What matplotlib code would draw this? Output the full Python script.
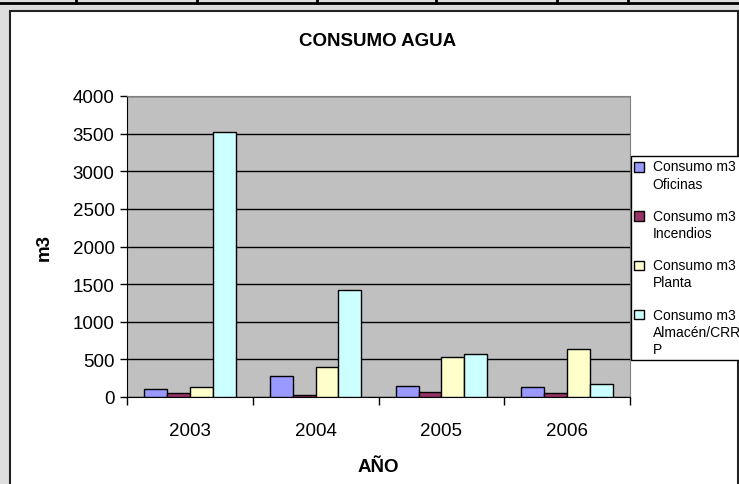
import numpy as np
import matplotlib
matplotlib.use('Agg')
import matplotlib.pyplot as plt
from matplotlib.patches import Rectangle
from matplotlib.lines import Line2D
from matplotlib.legend_handler import HandlerPatch, update_from_first_child

plt.rcParams['font.family'] = ['Liberation Sans', 'DejaVu Sans']

# --------------------------------------------------------------------------- #
# Data.
years = ['2003', '2004', '2005', '2006']
oficinas = [100, 275, 150, 135]
incendios = [50, 30, 65, 50]
planta = [135, 400, 535, 635]
almacen = [3525, 1420, 570, 170]

series = [oficinas, incendios, planta, almacen]
labels = ['Consumo m3\nOficinas', 'Consumo m3\nIncendios',
          'Consumo m3\nPlanta', 'Consumo m3\nAlmacén/CRR\nP']
colours = ['#9999ff', '#993366', '#ffffcc', '#ccffff']

yticks = np.arange(0, 4001, 500)

# --------------------------------------------------------------------------- #
W, H = 739., 485.
fig = plt.figure(figsize=(W / 100, H / 100), dpi=100)
fig.patch.set_facecolor('#dedede')

# Spreadsheet cell strip at the very top.
fig.add_artist(Line2D([0, 1], [1 - 3.5 / H, 1 - 3.5 / H], transform=fig.transFigure,
                      color='black', lw=2))
for xc in [76, 197, 317, 436, 557, 628]:
    fig.add_artist(Line2D([xc / W, xc / W], [1, 1 - 3.5 / H], transform=fig.transFigure,
                          color='black', lw=2))

# Chart frame.
fig.add_artist(Rectangle((10 / W, -0.1), (738 - 10) / W, (H - 12) / H + 0.1,
                         transform=fig.transFigure, facecolor='white',
                         edgecolor='#222222', lw=1.5, zorder=0))

ax = fig.add_axes([127 / W, 1 - 398 / H, (630 - 127) / W, (398 - 97) / H])
ax.set_facecolor('#c0c0c0')

x = np.arange(len(years))
bw = 1 / 5.5
bars = []
for i, (vals, lab, col) in enumerate(zip(series, labels, colours)):
    b = ax.bar(x + (i - 1.5) * bw, vals, bw, color=col, edgecolor='black',
               linewidth=1, label=lab, zorder=3)
    bars.append(b)

ax.set_xlim(-0.5, 3.5)
ax.set_ylim(0, 4000)
ax.set_yticks(yticks)
ax.set_yticklabels([str(v) for v in yticks], fontsize=13.5)
ax.yaxis.grid(True, color='black', lw=1)
ax.set_axisbelow(True)

ax.set_xticks(x)
ax.set_xticklabels(years, fontsize=13.5)
ax.set_xticks(np.arange(-0.5, 3.6, 1), minor=True)
ax.tick_params(axis='x', which='major', length=0, pad=18)
ax.tick_params(axis='x', which='minor', length=6, width=1, direction='out')
ax.tick_params(axis='y', length=5, width=1, direction='out', pad=4)

for s in ['top', 'right']:
    ax.spines[s].set_color('#808080')
for s in ['left', 'bottom']:
    ax.spines[s].set_color('black')

ax.set_xlabel('AÑO', fontsize=13.5, fontweight='bold', labelpad=14)
ax.set_ylabel('m3', fontsize=13.5, fontweight='bold', labelpad=14)

fig.text(378 / W, 1 - 42 / H, 'CONSUMO AGUA', fontsize=13.5, fontweight='bold',
         ha='center', va='center')


# Legend swatch sits beside the first line of each label, as in Excel.
def top_swatch(nlines):
    def make(legend, orig_handle, xdescent, ydescent, width, height, fontsize):
        shift = (nlines - 1) * 0.5 * 1.3 * fontsize
        return Rectangle((-xdescent, -ydescent + shift), width, height)
    return HandlerPatch(patch_func=make, update_func=update_from_first_child)


hmap = {b: top_swatch(lab.count('\n') + 1) for b, lab in zip(bars, labels)}
leg = fig.legend(bars, labels, loc='upper left',
                 bbox_to_anchor=(631 / W, 1 - 157 / H), handler_map=hmap,
                 fontsize=10, frameon=True, fancybox=False, framealpha=1,
                 edgecolor='black', handlelength=0.7, handleheight=0.7,
                 handletextpad=0.6, labelspacing=1.3, borderpad=0.25,
                 borderaxespad=0)
leg.get_frame().set_linewidth(1)
for t in leg.get_texts():
    t.set_linespacing(1.3)

fig.savefig('out.png', dpi=100, facecolor=fig.get_facecolor())
